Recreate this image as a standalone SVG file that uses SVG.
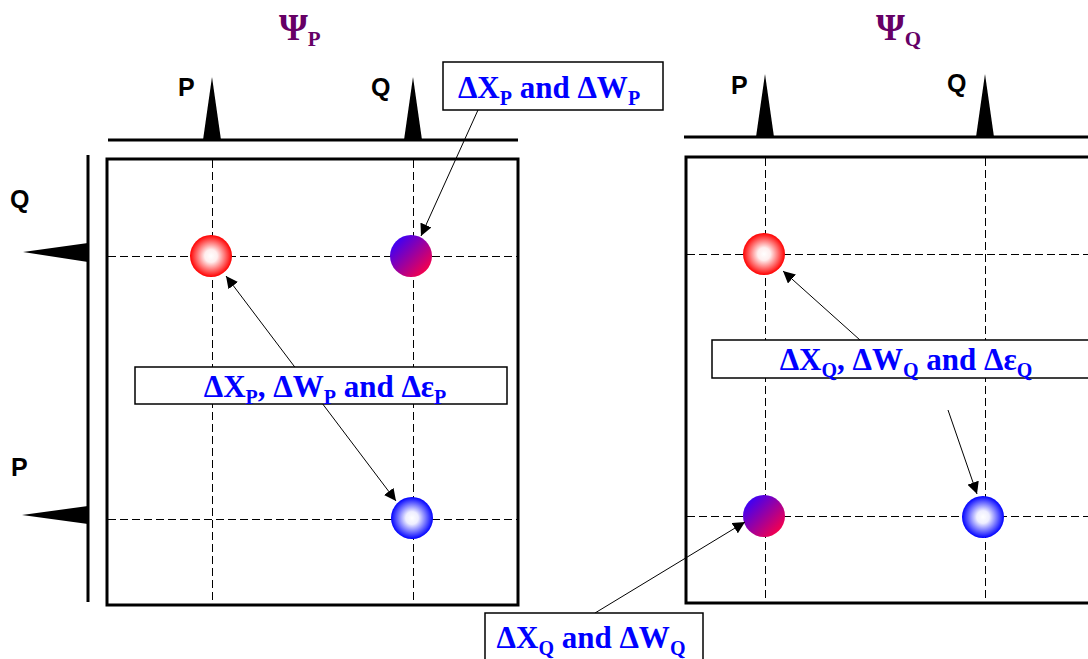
<svg xmlns="http://www.w3.org/2000/svg" width="1088" height="659" viewBox="0 0 1088 659">
<defs>
<radialGradient id="gRed" cx="0.5" cy="0.5" r="0.5"><stop offset="0" stop-color="#ffffff"/><stop offset="0.3" stop-color="#ffeeee"/><stop offset="1" stop-color="#ff0000"/></radialGradient>
<radialGradient id="gBlue" cx="0.5" cy="0.5" r="0.5"><stop offset="0" stop-color="#ffffff"/><stop offset="0.3" stop-color="#eeeeff"/><stop offset="1" stop-color="#0000ff"/></radialGradient>
<linearGradient id="gMix" x1="0" y1="0" x2="1" y2="1"><stop offset="0.1" stop-color="#3300ff"/><stop offset="0.9" stop-color="#ff0044"/></linearGradient>
<marker id="ah" viewBox="0 0 10 10" refX="10" refY="5" markerWidth="12" markerHeight="12" markerUnits="userSpaceOnUse" orient="auto-start-reverse"><path d="M0,0 L10,5 L0,10 z" fill="#000"/></marker>
</defs>
<style>
.frame{fill:none;stroke:#000;stroke-width:3}
.axis{stroke:#000;stroke-width:3;fill:none}
.dash{stroke:#000;stroke-width:1;stroke-dasharray:8 4;fill:none}
.peak{fill:#000}
.box{fill:#fff;stroke:#000;stroke-width:1.5}
.lbl{font-family:"Liberation Serif",serif;font-weight:bold;font-size:31px;fill:#0000ff}
.ax{font-family:"Liberation Sans",Arial,sans-serif;font-weight:bold;font-size:25px;fill:#000}
.psi{font-family:"Liberation Serif",serif;font-weight:bold;font-size:37px;fill:#660066}
.conn{stroke:#000;stroke-width:1;fill:none}
</style>
<g id="left-panel">
<rect class="frame" x="107" y="159" width="411" height="446"/>
<line class="dash" x1="212.5" y1="160" x2="212.5" y2="604"/>
<line class="dash" x1="413.5" y1="160" x2="413.5" y2="604"/>
<line class="dash" x1="108" y1="256.5" x2="517" y2="256.5"/>
<line class="dash" x1="108" y1="519.5" x2="517" y2="519.5"/>
<line class="axis" x1="108" y1="140" x2="518" y2="140"/>
<path class="peak" d="M203,140 L212,77 L221,140 z"/>
<path class="peak" d="M404,140 L413,77 L422,140 z"/>
<line class="axis" x1="88" y1="155" x2="88" y2="602"/>
<path class="peak" d="M88,243 L23,252 L88,262 z"/>
<path class="peak" d="M88,506 L22,515 L88,524 z"/>
<text class="ax" x="178" y="96">P</text>
<text class="ax" x="371" y="96">Q</text>
<text class="ax" x="10" y="208">Q</text>
<text class="ax" x="11" y="476">P</text>
<text class="psi" x="279" y="40">Ψ<tspan font-size="21" dy="6">P</tspan></text>
</g>
<g id="right-panel">
<rect class="frame" x="686" y="157" width="410" height="446"/>
<line class="dash" x1="765.5" y1="158" x2="765.5" y2="602"/>
<line class="dash" x1="985.5" y1="158" x2="985.5" y2="602"/>
<line class="dash" x1="687" y1="254.5" x2="1088" y2="254.5"/>
<line class="dash" x1="687" y1="516.5" x2="1088" y2="516.5"/>
<line class="axis" x1="684" y1="137" x2="1088" y2="137"/>
<path class="peak" d="M756,137 L765,74 L774,137 z"/>
<path class="peak" d="M976,137 L985,74 L994,137 z"/>
<text class="ax" x="731" y="94">P</text>
<text class="ax" x="947" y="92">Q</text>
<text class="psi" x="876" y="40">Ψ<tspan font-size="21" dy="6">Q</tspan></text>
</g>
<g id="node-left-red"><circle cx="211" cy="256" r="21" fill="url(#gRed)"/></g>
<g id="node-left-mix"><circle cx="411" cy="256" r="21" fill="url(#gMix)"/></g>
<g id="node-left-blue"><circle cx="412" cy="518" r="21" fill="url(#gBlue)"/></g>
<g id="node-right-red"><circle cx="764" cy="254" r="21" fill="url(#gRed)"/></g>
<g id="node-right-mix"><circle cx="764" cy="516" r="21" fill="url(#gMix)"/></g>
<g id="node-right-blue"><circle cx="983" cy="517" r="21" fill="url(#gBlue)"/></g>
<g id="connectors">
<line class="conn" x1="478" y1="110" x2="421" y2="236" marker-end="url(#ah)"/>
<line class="conn" x1="226" y1="276" x2="396" y2="501" marker-start="url(#ah)" marker-end="url(#ah)"/>
<line class="conn" x1="860" y1="340" x2="783" y2="271" marker-end="url(#ah)"/>
<line class="conn" x1="948" y1="410" x2="977" y2="494" marker-end="url(#ah)"/>
<line class="conn" x1="595" y1="613" x2="745" y2="522" marker-end="url(#ah)"/>
</g>
<g id="label-top">
<rect class="box" x="443" y="62" width="220" height="48"/>
<text class="lbl" x="549" y="98" text-anchor="middle">ΔX<tspan font-size="20" dy="7">P</tspan><tspan dy="-7"> and ΔW</tspan><tspan font-size="20" dy="7">P</tspan></text>
</g>
<g id="label-mid-left">
<rect class="box" x="135" y="367" width="372" height="37"/>
<text class="lbl" x="325" y="397" text-anchor="middle">ΔX<tspan font-size="20" dy="7">P</tspan><tspan dy="-7">, ΔW</tspan><tspan font-size="20" dy="7">P</tspan><tspan dy="-7"> and Δε</tspan><tspan font-size="20" dy="7">P</tspan></text>
</g>
<g id="label-mid-right">
<rect class="box" x="712" y="340" width="384" height="38"/>
<text class="lbl" x="906" y="370" text-anchor="middle">ΔX<tspan font-size="20" dy="7">Q</tspan><tspan dy="-7">, ΔW</tspan><tspan font-size="20" dy="7">Q</tspan><tspan dy="-7"> and Δε</tspan><tspan font-size="20" dy="7">Q</tspan></text>
</g>
<g id="label-bottom">
<rect class="box" x="485" y="613" width="218" height="52"/>
<text class="lbl" x="591" y="648" text-anchor="middle">ΔX<tspan font-size="20" dy="7">Q</tspan><tspan dy="-7"> and ΔW</tspan><tspan font-size="20" dy="7">Q</tspan></text>
</g>
</svg>
